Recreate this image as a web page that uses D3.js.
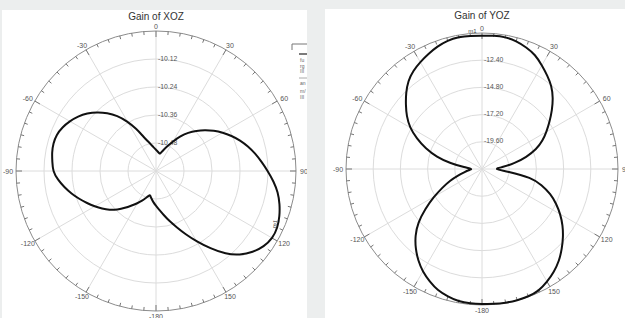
<!DOCTYPE html>
<html>
<head>
<meta charset="utf-8">
<script src="https://cdn.jsdelivr.net/npm/d3@7"></script>
<style>
  html, body { margin: 0; padding: 0; background: #eceeee; }
  svg { display: block; }
  text { font-family: "Liberation Sans", Arial, sans-serif; }
</style>
</head>
<body>
<svg id="chart" width="625" height="318"></svg>
<script>
// ---------- data ----------
const angleTicks = [0, 30, 60, 90, 120, 150, 180, -150, -120, -90, -60, -30];
const angleTickLabels = ["0", "30", "60", "90", "120", "150", "-180", "-150", "-120", "-90", "-60", "-30"];

const xozTitle = "Gain of XOZ";
const xozAngles = [-180, -175, -170, -166, -165, -160, -155, -150, -145, -140, -135, -130, -125, -120, -115, -110, -105,
                   -100, -95, -90, -85, -80, -75, -70, -65, -60, -55, -50, -45, -40, -35, -30, -25, -20, -15, -10, -5,
                   0, 5, 10, 13, 15, 20, 25, 30, 35, 40, 45, 50, 55, 60, 65, 70, 75, 80, 85, 90, 95, 100, 105, 110,
                   115, 120, 125, 130, 135, 140, 145, 150, 155, 160, 165, 170, 175];
const xozGain = [-10.450, -10.466, -10.482, -10.494, -10.492, -10.479, -10.459, -10.440, -10.420, -10.393, -10.366,
                 -10.340, -10.318, -10.297, -10.274, -10.250, -10.225, -10.201, -10.177, -10.158, -10.154, -10.147,
                 -10.144, -10.146, -10.157, -10.173, -10.192, -10.215, -10.243, -10.275, -10.310, -10.354, -10.400,
                 -10.444, -10.469, -10.487, -10.500,
                 -10.509, -10.516, -10.522, -10.525, -10.519, -10.502, -10.482, -10.453, -10.418, -10.385, -10.356,
                 -10.327, -10.298, -10.270, -10.243, -10.216, -10.192, -10.168, -10.146, -10.121, -10.094, -10.069,
                 -10.051, -10.036, -10.025, -10.023, -10.035, -10.058, -10.091, -10.135, -10.195, -10.252, -10.301,
                 -10.345, -10.378, -10.408, -10.433];
const xozRingValues = [-10.60, -10.48, -10.36, -10.24, -10.12, -10.00];
const xozRingLabels = ["-10.48", "-10.36", "-10.24", "-10.12"];
const xozMarker = { angle: 114, label: "m1" };

const yozTitle = "Gain of YOZ";
const yozAngles = [-180, -175, -170, -165, -160, -155, -150, -145, -140, -135, -130, -125, -120, -115, -110, -105,
                   -100, -95, -90, -85, -80, -75, -70, -65, -60, -55, -50, -45, -40, -35, -30, -25, -20, -15, -10, -5,
                   0, 5, 10, 15, 20, 25, 30, 35, 40, 45, 50, 55, 60, 65, 70, 75, 80, 85, 90, 95, 100, 105, 110,
                   115, 120, 125, 130, 135, 140, 145, 150, 155, 160, 165, 170, 175];
const yozGain = [-10.09, -10.10, -10.12, -10.36, -10.59, -11.06, -11.54, -12.16, -12.87, -13.66, -14.61, -15.90,
                 -17.09, -18.16, -18.98, -19.79, -20.44, -20.82, -21.21, -20.50, -19.18, -17.85, -16.71, -15.65,
                 -14.63, -13.88, -13.22, -12.51, -11.85, -11.41, -11.10, -10.79, -10.49, -10.25, -10.17, -10.19,
                 -10.24, -10.19, -10.16, -10.31, -10.57, -10.88, -11.43, -11.94, -12.44, -13.13, -13.93, -14.72,
                 -15.43, -16.09, -16.88, -17.94, -19.09, -20.15, -21.03, -19.76, -17.54, -16.57, -15.54, -14.78,
                 -14.01, -13.30, -12.65, -12.03, -11.41, -10.92, -10.51, -10.13, -10.02, -10.00, -10.00, -10.04];
const yozRingValues = [-22.0, -19.6, -17.2, -14.8, -12.4, -10.0];
const yozRingLabels = ["-19.60", "-17.20", "-14.80", "-12.40"];
const yozMarker = { angle: -4, label: "m1" };

// ---------- drawing ----------
const svg = d3.select("#chart");
const rad = d => d * Math.PI / 180;

// panels
svg.append("rect").attr("x", 2).attr("y", 10).attr("width", 305).attr("height", 308).attr("fill", "#ffffff");
svg.append("rect").attr("x", 325).attr("y", 9).attr("width", 300).attr("height", 309).attr("fill", "#ffffff");

const clipL = svg.append("clipPath").attr("id", "clipL");
clipL.append("rect").attr("x", 2).attr("y", 10).attr("width", 305).attr("height", 308);
const clipR = svg.append("clipPath").attr("id", "clipR");
clipR.append("rect").attr("x", 325).attr("y", 9).attr("width", 300).attr("height", 309);

function drawPolar(cfg) {
  const root = svg.append("g").attr("clip-path", `url(#${cfg.clip})`);
  const g = root.append("g").attr("transform", `translate(${cfg.cx},${cfg.cy})`);
  const R = cfg.R;
  const r = d3.scaleLinear().domain(d3.extent(cfg.rings)).range([0, R]).clamp(true);

  // rings
  g.selectAll("circle.ring").data(cfg.rings.slice(1, -1)).join("circle")
    .attr("r", d => r(d)).attr("fill", "none").attr("stroke", "#dcdcdc").attr("stroke-width", 1);

  // spokes
  g.selectAll("line.spoke").data(angleTicks).join("line")
    .attr("x1", 0).attr("y1", 0)
    .attr("x2", d => R * Math.sin(rad(d))).attr("y2", d => -R * Math.cos(rad(d)))
    .attr("stroke", "#dcdcdc").attr("stroke-width", 1);

  // outer circle
  g.append("circle").attr("r", R).attr("fill", "none").attr("stroke", "#8c8c8c").attr("stroke-width", 1);

  // ticks
  const tickAngles = d3.range(-180, 180, 5);
  g.selectAll("line.tick").data(tickAngles).join("line")
    .attr("x1", d => R * Math.sin(rad(d))).attr("y1", d => -R * Math.cos(rad(d)))
    .attr("x2", d => (R - (d % 30 === 0 ? 6 : 3.5)) * Math.sin(rad(d)))
    .attr("y2", d => -(R - (d % 30 === 0 ? 6 : 3.5)) * Math.cos(rad(d)))
    .attr("stroke", "#777").attr("stroke-width", 1);

  // angle labels
  g.selectAll("text.alab").data(angleTicks).join("text")
    .attr("x", d => (R + 8) * Math.sin(rad(d)))
    .attr("y", d => -(R + 5) * Math.cos(rad(d)))
    .attr("text-anchor", "middle").attr("dominant-baseline", "central")
    .attr("font-size", 7).attr("fill", "#555")
    .text((d, i) => angleTickLabels[i]);

  // ring labels
  g.selectAll("text.rlab").data(cfg.ringLabels).join("text")
    .attr("x", 2)
    .attr("y", d => -r(+d) - 1)
    .attr("dominant-baseline", "central")
    .attr("font-size", 6.8).attr("fill", "#555")
    .text(d => d);

  // curve
  const pts = cfg.angles.map((a, i) => [rad(a), r(cfg.gain[i])]);
  const line = d3.lineRadial().angle(d => d[0]).radius(d => d[1]).curve(d3.curveBasisClosed);
  g.append("path").attr("d", line(pts)).attr("fill", "none").attr("stroke", "#111").attr("stroke-width", 2);

  // title
  root.append("text").attr("x", cfg.cx).attr("y", cfg.titleY)
    .attr("text-anchor", "middle").attr("font-size", 10).attr("fill", "#333").text(cfg.title);

  return { g, r, root };
}

const left = drawPolar({ clip: "clipL", cx: 156, cy: 171, R: 140, rings: xozRingValues, ringLabels: xozRingLabels,
  angles: xozAngles, gain: xozGain, title: xozTitle, titleY: 20 });
const right = drawPolar({ clip: "clipR", cx: 482, cy: 169, R: 136, rings: yozRingValues, ringLabels: yozRingLabels,
  angles: yozAngles, gain: yozGain, title: yozTitle, titleY: 19 });

// markers
function marker(p, angles, gain, m, rot, off) {
  const i = d3.minIndex(angles, a => Math.abs(a - m.angle));
  const rr = p.r(gain[i]) + off;
  const x = rr * Math.sin(rad(m.angle)), y = -rr * Math.cos(rad(m.angle));
  p.g.append("text").attr("transform", `translate(${x},${y}) rotate(${rot})`)
    .attr("text-anchor", "middle").attr("dominant-baseline", "central")
    .attr("font-size", 6).attr("fill", "#444").text(m.label);
}
marker(left, xozAngles, xozGain, xozMarker, -80, -4);
marker(right, yozAngles, yozGain, yozMarker, 0, 4);

// clipped legend fragment at the right of the left panel
const lg = left.root.append("g");
lg.append("path").attr("d", "M292,50 V44 H312").attr("fill", "none").attr("stroke", "#777").attr("stroke-width", 1);
lg.append("line").attr("x1", 299).attr("x2", 312).attr("y1", 54).attr("y2", 54).attr("stroke", "#222").attr("stroke-width", 1.2);
const legTexts = ["fu", "rg", "III", "an", "m/", "III"];
const legY = [62, 68, 73, 85, 93, 99];
lg.selectAll("text.leg").data(legTexts).join("text")
  .attr("x", 300).attr("y", (d, i) => legY[i]).attr("font-size", 5).attr("fill", "#666").text(d => d);
lg.append("line").attr("x1", 299).attr("x2", 312).attr("y1", 78).attr("y2", 78).attr("stroke", "#aaa");
</script>
</body>
</html>
